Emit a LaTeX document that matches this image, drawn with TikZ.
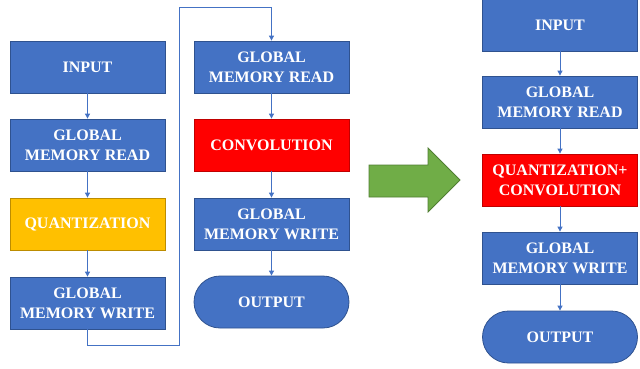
\documentclass[tikz,border=0pt]{standalone}
\usepackage{fontspec}
\setmainfont{Liberation Serif}
\usetikzlibrary{arrows.meta,shapes.misc}
\definecolor{boxblue}{HTML}{4472C4}
\definecolor{boxedge}{HTML}{2F528F}
\definecolor{qyellow}{HTML}{FFC000}
\definecolor{qedge}{HTML}{BC8C00}
\definecolor{cred}{HTML}{FF0000}
\definecolor{credge}{HTML}{C00000}
\definecolor{agreen}{HTML}{70AD47}
\definecolor{agedge}{HTML}{507E32}
\tikzset{
  blk/.style={draw=boxedge, line width=0.8pt, fill=boxblue, text=white,
    font=\fontsize{16}{20}\selectfont\bfseries, align=center,
    minimum width=155pt, minimum height=52pt, inner sep=0pt},
  yel/.style={blk, fill=qyellow, draw=qedge},
  redb/.style={blk, fill=cred, draw=credge},
  term/.style={blk, rounded rectangle},
  conn/.style={draw=boxblue, line width=0.9pt, -{Triangle[length=5pt,width=5pt]}},
}
\begin{document}
\begin{tikzpicture}[x=1pt,y=-1pt]
\useasboundingbox (0,0) rectangle (640,368);
% left column
\node[blk] (lin) at (87.5,67) {INPUT};
\node[blk] (lgmr) at (87.5,145) {GLOBAL\\MEMORY READ};
\node[yel] (lq) at (87.5,224) {QUANTIZATION};
\node[blk] (lgmw) at (87.5,303) {GLOBAL\\MEMORY WRITE};
% middle column
\node[blk] (mgmr) at (271.5,67) {GLOBAL\\MEMORY READ};
\node[redb] (mconv) at (271.5,145) {CONVOLUTION};
\node[blk] (mgmw) at (271.5,224) {GLOBAL\\MEMORY WRITE};
\node[term] (mout) at (271.5,302) {OUTPUT};
% right column
\node[blk] (rin) at (560,25) {INPUT};
\node[blk] (rgmr) at (560,102) {GLOBAL\\MEMORY READ};
\node[redb] (rqc) at (560,180) {QUANTIZATION+\\CONVOLUTION};
\node[blk] (rgmw) at (560,258) {GLOBAL\\MEMORY WRITE};
\node[term] (rout) at (560,337) {OUTPUT};
% connectors
\draw[conn] (lin) -- (lgmr);
\draw[conn] (lgmr) -- (lq);
\draw[conn] (lq) -- (lgmw);
\coordinate (c1) at (179,345);
\coordinate (c2) at (179,7);
\draw[conn] (lgmw.south) |- (c1) -- (c2) -| (mgmr.north);
\draw[conn] (mgmr) -- (mconv);
\draw[conn] (mconv) -- (mgmw);
\draw[conn] (mgmw) -- (mout);
\draw[conn] (rin) -- (rgmr);
\draw[conn] (rgmr) -- (rqc);
\draw[conn] (rqc) -- (rgmw);
\draw[conn] (rgmw) -- (rout);
% big green arrow
\draw[draw=agedge, line width=0.8pt, fill=agreen]
  (369,165) -- (428,165) -- (428,148) -- (460,180) -- (428,212) -- (428,197) -- (369,197) -- cycle;
\end{tikzpicture}
\end{document}
